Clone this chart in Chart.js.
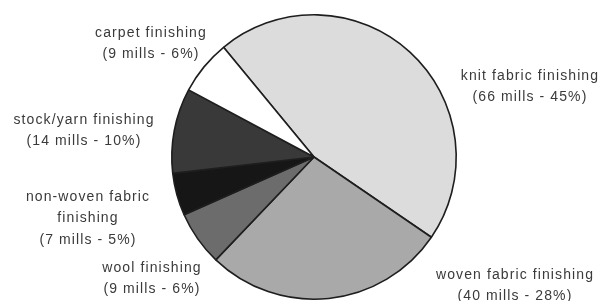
<!DOCTYPE html>
<html>
<head>
<meta charset="utf-8">
<script src="https://cdn.jsdelivr.net/npm/chart.js@4"></script>
<style>
  html, body { margin: 0; padding: 0; background: #fff; }
  #wrap { width: 602px; height: 301px; position: relative; }
</style>
</head>
<body>
<div id="wrap"><canvas id="millChart"></canvas></div>
<script>
// mills by finishing type, clockwise from knit fabric
var categories = ['knit fabric finishing', 'woven fabric finishing', 'wool finishing',
                  'non-woven fabric finishing', 'stock/yarn finishing', 'carpet finishing'];
var mills = [66, 40, 9, 7, 14, 9];
var percents = [45, 28, 6, 5, 10, 6];
var sliceColors = ['#dcdcdc', '#a9a9a9', '#6c6c6c', '#161616', '#393939', '#ffffff'];

// label text lines and where the first line sits, relative to the pie centre
var labelLines = [
    ['knit fabric finishing'],
    ['woven fabric finishing'],
    ['wool finishing'],
    ['non-woven fabric', 'finishing'],
    ['stock/yarn finishing'],
    ['carpet finishing']
];
var labelOffsets = [[216, -81], [201, 118], [-162, 111], [-226, 40], [-230, -37], [-163, -124]];

var outsideLabels = {
    id: 'outsideLabels',
    afterDraw: function(chart) {
        var ctx = chart.ctx;
        var arc = chart.getDatasetMeta(0).data[0];
        ctx.save();
        ctx.font = '14px "Liberation Sans", Arial, sans-serif';
        ctx.letterSpacing = '1.1px';
        ctx.fillStyle = '#3a3a3a';
        ctx.textAlign = 'center';
        ctx.textBaseline = 'middle';
        categories.forEach(function(cat, i) {
            var lines = labelLines[i].concat(['(' + mills[i] + ' mills - ' + percents[i] + '%)']);
            var x = arc.x + labelOffsets[i][0];
            var y = arc.y + labelOffsets[i][1];
            lines.forEach(function(line, j) {
                ctx.fillText(line, x, y + j * 21.5);
            });
        });
        ctx.restore();
    }
};

var ctx = document.getElementById('millChart').getContext('2d');
new Chart(ctx, {
    type: 'pie',
    data: {
        labels: categories,
        datasets: [{
            data: mills,
            backgroundColor: sliceColors,
            borderColor: '#1e1e1e',
            borderWidth: 1.6
        }]
    },
    options: {
        responsive: true,
        maintainAspectRatio: false,
        animation: false,
        rotation: -39.5,
        layout: { padding: { top: 14, bottom: 1, left: 26, right: 0 } },
        plugins: {
            legend: { display: false },
            tooltip: { enabled: false }
        }
    },
    plugins: [outsideLabels]
});
</script>
</body>
</html>
